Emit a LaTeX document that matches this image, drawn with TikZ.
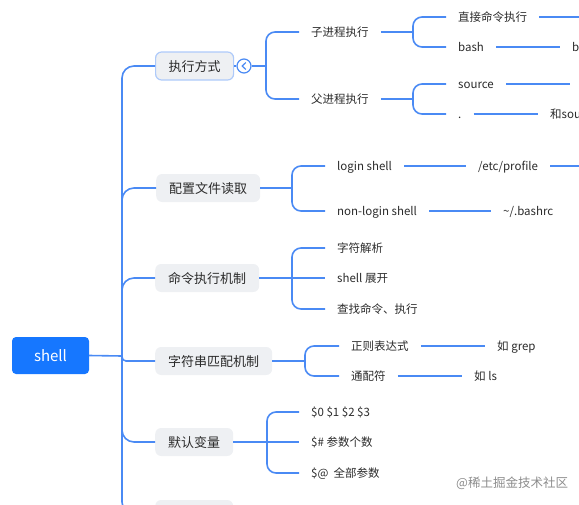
\documentclass[tikz,border=0pt]{standalone}
\usepackage{fontspec}
\setmainfont{Noto Sans CJK SC}
\usetikzlibrary{calc}
\definecolor{conn}{HTML}{4A8AF4}
\definecolor{rootblue}{HTML}{1677FF}
\definecolor{lvlfill}{HTML}{EEF0F3}
\definecolor{txt}{HTML}{2B2B2B}
\begin{document}
\begin{tikzpicture}[x=1pt,y=-1pt,
 link/.style={draw=conn,line width=1.6pt},
 brk/.style={draw=conn,line width=1.6pt,rounded corners=9pt},
 rootbox/.style={fill=rootblue,rounded corners=4pt,text=white,font=\fontsize{15}{18}\selectfont,minimum width=77pt,minimum height=37pt,inner sep=0pt},
 topic/.style={fill=lvlfill,rounded corners=6pt,text=txt,font=\fontsize{13}{16}\selectfont,inner xsep=13pt,inner ysep=0pt,text height=11pt,text depth=1pt,minimum height=28pt,anchor=west},
 leaf/.style={text=txt,font=\fontsize{11.5}{14}\selectfont,inner xsep=12pt,inner ysep=2pt,text height=9.5pt,text depth=1.5pt,anchor=west},
]
\useasboundingbox (0,0) rectangle (579,504);
\clip (0,0) rectangle (579,504);

% root and trunk
\node[rootbox] (root) at (50.5,355.5) {shell};
\coordinate (tj) at (122,356);
\node[topic,draw=conn!45,line width=1.2pt] (t1) at (155,66) {执行方式};
\node[topic] (t2) at (156,188) {配置文件读取};
\node[topic] (t3) at (155,278) {命令执行机制};
\node[topic] (t4) at (155,361) {字符串匹配机制};
\node[topic] (t5) at (155,442) {默认变量};
\node[topic,minimum width=78pt] (t6) at (155,514) {};
\draw[link] (root.east) -- (tj);
\foreach \t in {t1,t2,t3,t5,t6} \draw[link,rounded corners=12pt] (tj) |- (\t.west);
\draw[link,rounded corners=4pt] (tj) |- (t4.west);

% topic 1
\node[circle,draw=conn,fill=white,line width=1.2pt,minimum size=14pt,inner sep=0pt] (tog) at (244,66) {};
\draw[link,line width=1.1pt] ($(tog.center)+(1.8,-3.5)$) -- ($(tog.center)+(-1.8,0)$) -- ($(tog.center)+(1.8,3.5)$);
\draw[link] (t1.east) -- (tog.west);
\coordinate (b1) at (266,66);
\draw[link] (tog.east) -- (b1);
\node[leaf] (a1) at (299,32) {子进程执行};
\node[leaf] (a2) at (299,99) {父进程执行};
\draw[brk] (b1) |- (a1.west);
\draw[brk] (b1) |- (a2.west);

\coordinate (b2) at (413,32);
\draw[link] (a1.east) -- (b2);
\node[leaf] (c1) at (446,17) {直接命令执行};
\node[leaf] (c2) at (446,47) {bash};
\draw[brk] (b2) |- (c1.west);
\draw[brk] (b2) |- (c2.west);
\coordinate (e1) at (595,17);
\draw[link] (c1.east) -- (e1);
\node[leaf] (d1) at (560,47) {b};
\draw[link] (c2.east) -- (d1.west);

\coordinate (b3) at (413,99);
\draw[link] (a2.east) -- (b3);
\node[leaf] (c3) at (446,84) {source};
\node[leaf] (c4) at (446,114) {.};
\draw[brk] (b3) |- (c3.west);
\draw[brk] (b3) |- (c4.west);
\coordinate (e2) at (570,84);
\draw[link] (c3.east) -- (e2);
\node[leaf] (d2) at (538,114) {和sou};
\draw[link] (c4.east) -- (d2.west);

% topic 2
\coordinate (b4) at (292,188);
\draw[link] (t2.east) -- (b4);
\node[leaf] (f1) at (325,166) {login shell};
\node[leaf] (f2) at (325,211) {non-login shell};
\draw[brk] (b4) |- (f1.west);
\draw[brk] (b4) |- (f2.west);
\node[leaf] (g1) at (466,166) {/etc/profile};
\draw[link] (f1.east) -- (g1.west);
\coordinate (e3) at (595,166);
\draw[link] (g1.east) -- (e3);
\node[leaf] (g2) at (491,211) {\textasciitilde/.bashrc};
\draw[link] (f2.east) -- (g2.west);

% topic 3
\coordinate (b5) at (292,278);
\draw[link] (t3.east) -- (b5);
\node[leaf] (h1) at (325,248) {字符解析};
\node[leaf] (h2) at (325,278) {shell 展开};
\node[leaf] (h3) at (325,309) {查找命令、执行};
\draw[brk] (b5) |- (h1.west);
\draw[link] (b5) -- (h2.west);
\draw[brk] (b5) |- (h3.west);

% topic 4
\coordinate (b6) at (305,361);
\draw[link] (t4.east) -- (b6);
\node[leaf] (i1) at (339,346) {正则表达式};
\node[leaf] (i2) at (339,376) {通配符};
\draw[brk] (b6) |- (i1.west);
\draw[brk] (b6) |- (i2.west);
\node[leaf] (j1) at (485,346) {如 grep};
\node[leaf] (j2) at (462,376) {如 ls};
\draw[link] (i1.east) -- (j1.west);
\draw[link] (i2.east) -- (j2.west);

% topic 5
\coordinate (b7) at (267,442);
\draw[link] (t5.east) -- (b7);
\node[leaf] (k1) at (299,412) {\$0 \$1 \$2 \$3};
\node[leaf] (k2) at (299,442) {\$\# 参数个数};
\node[leaf] (k3) at (299,473) {\$@\ \ 全部参数};
\draw[brk] (b7) |- (k1.west);
\draw[link] (b7) -- (k2.west);
\draw[brk] (b7) |- (k3.west);

% site mark
\node[text=black!45,font=\fontsize{12.5}{15}\selectfont,anchor=west,inner sep=0pt] (wm) at (456,483) {@稀土掘金技术社区};
\end{tikzpicture}
\end{document}
